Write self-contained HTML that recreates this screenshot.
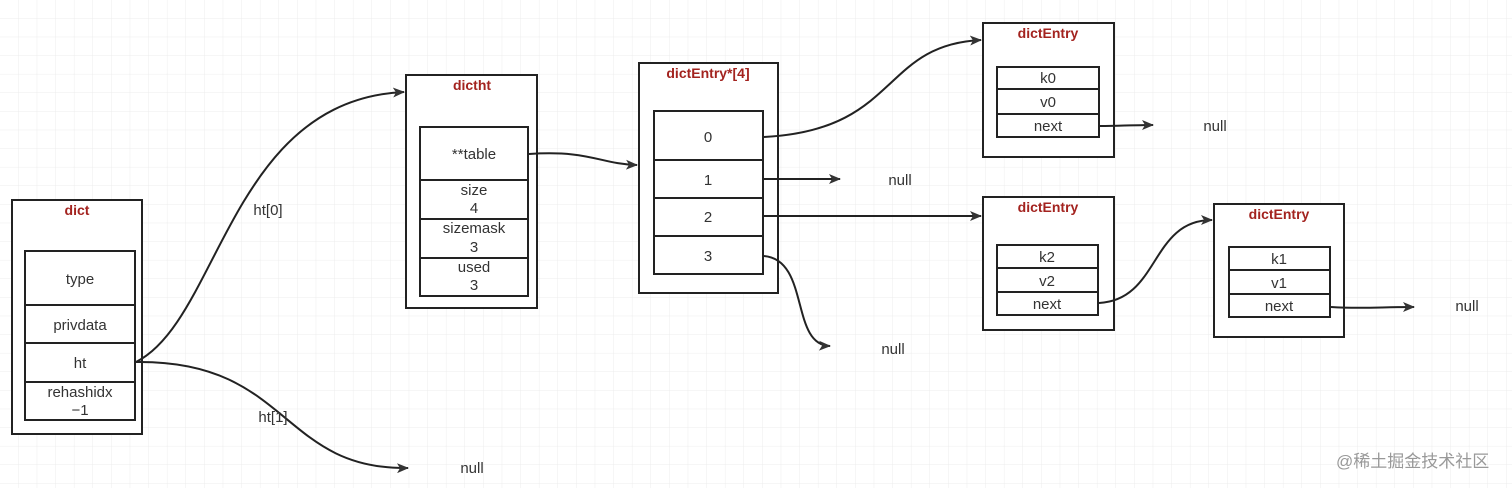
<!DOCTYPE html>
<html><head><meta charset="utf-8"><style>
html,body{margin:0;padding:0;width:1512px;height:488px;overflow:hidden;background:#fff;}
svg{display:block}
text{font-family:"Liberation Sans","Noto Sans CJK SC",sans-serif;font-size:15px;fill:#333;}
.t{fill:#a3231f;font-weight:bold;font-size:14px;}
</style></head><body>
<svg width="1512" height="488" viewBox="0 0 1512 488" xmlns="http://www.w3.org/2000/svg">
<defs>
<pattern id="g" width="18.6" height="18.6" patternUnits="userSpaceOnUse">
<path d="M18.6 0V18.6M0 18.6H18.6" stroke="#ececec" stroke-width="1" fill="none"/>
</pattern>
<marker id="a" markerWidth="12" markerHeight="10" refX="11" refY="5" orient="auto" markerUnits="userSpaceOnUse">
<path d="M0 0L12 5L0 10L3 5Z" fill="#333"/>
</marker>
</defs>
<rect width="1512" height="488" fill="url(#g)"/>
<g fill="#fff" stroke="#222" stroke-width="2">
<rect x="12" y="200" width="130" height="234"/>
<rect x="25" y="251" width="110" height="54"/><rect x="25" y="305" width="110" height="38"/>
<rect x="25" y="343" width="110" height="39"/><rect x="25" y="382" width="110" height="38"/>
<rect x="406" y="75" width="131" height="233"/>
<rect x="420" y="127" width="108" height="53"/><rect x="420" y="180" width="108" height="39"/>
<rect x="420" y="219" width="108" height="39"/><rect x="420" y="258" width="108" height="38"/>
<rect x="639" y="63" width="139" height="230"/>
<rect x="654" y="111" width="109" height="49"/><rect x="654" y="160" width="109" height="38"/>
<rect x="654" y="198" width="109" height="38"/><rect x="654" y="236" width="109" height="38"/>
<rect x="983" y="23" width="131" height="134"/>
<rect x="997" y="67" width="102" height="22"/><rect x="997" y="89" width="102" height="25"/><rect x="997" y="114" width="102" height="23"/>
<rect x="983" y="197" width="131" height="133"/>
<rect x="997" y="245" width="101" height="23"/><rect x="997" y="268" width="101" height="24"/><rect x="997" y="292" width="101" height="23"/>
<rect x="1214" y="204" width="130" height="133"/>
<rect x="1229" y="247" width="101" height="23"/><rect x="1229" y="270" width="101" height="24"/><rect x="1229" y="294" width="101" height="23"/>
</g>
<g fill="none" stroke="#222" stroke-width="2" marker-end="url(#a)">
<path d="M136 362C220 320 230 100 404 92"/>
<path d="M136 362C290 360 280 470 408 468"/>
<path d="M529 154C590 150 600 164 637 165"/>
<path d="M764 137C900 130 880 45 981 40"/>
<path d="M764 179H840"/>
<path d="M764 216H981"/>
<path d="M764 256C810 260 790 345 830 346"/>
<path d="M1100 126C1120 126 1130 125 1153 125"/>
<path d="M1099 303C1160 300 1150 220 1212 220"/>
<path d="M1331 307C1360 309 1380 307 1414 307"/>
</g>
<g text-anchor="middle">
<text class="t" x="77" y="215">dict</text>
<text x="80" y="284">type</text><text x="80" y="330">privdata</text><text x="80" y="368">ht</text>
<text x="80" y="397">rehashidx</text><text x="80" y="415">−1</text>
<text class="t" x="472" y="90">dictht</text>
<text x="474" y="159">**table</text><text x="474" y="195">size</text><text x="474" y="213">4</text>
<text x="474" y="233">sizemask</text><text x="474" y="252">3</text><text x="474" y="272">used</text><text x="474" y="290">3</text>
<text class="t" x="708" y="78">dictEntry*[4]</text>
<text x="708" y="142">0</text><text x="708" y="185">1</text><text x="708" y="222">2</text><text x="708" y="261">3</text>
<text class="t" x="1048" y="38">dictEntry</text>
<text x="1048" y="83">k0</text><text x="1048" y="107">v0</text><text x="1048" y="131">next</text>
<text class="t" x="1048" y="212">dictEntry</text>
<text x="1047" y="262">k2</text><text x="1047" y="286">v2</text><text x="1047" y="309">next</text>
<text class="t" x="1279" y="219">dictEntry</text>
<text x="1279" y="264">k1</text><text x="1279" y="288">v1</text><text x="1279" y="311">next</text>
<text x="268" y="215">ht[0]</text><text x="273" y="422">ht[1]</text>
<text x="1215" y="131">null</text><text x="900" y="185">null</text><text x="893" y="354">null</text>
<text x="472" y="473">null</text><text x="1467" y="311">null</text>
</g>
<text x="1336" y="467" style="fill:#999;font-size:17px">@稀土掘金技术社区</text>
</svg>
</body></html>
